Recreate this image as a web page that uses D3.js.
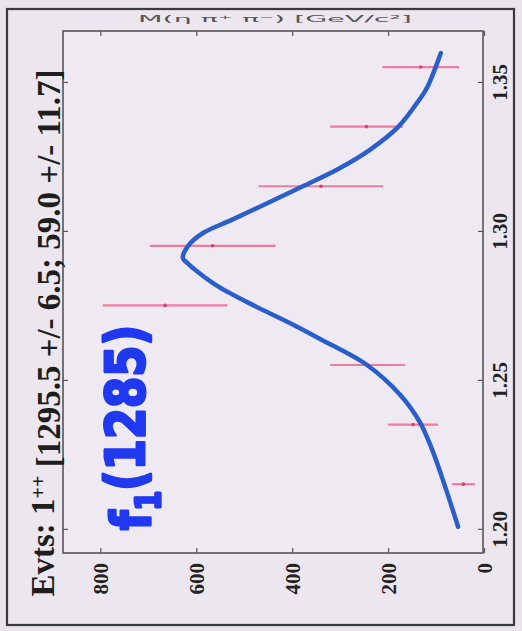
<!DOCTYPE html>
<html>
<head>
<meta charset="utf-8">
<script src="https://cdn.jsdelivr.net/npm/d3@7"></script>
<style>
  body { margin: 0; background: #e9e3eb; }
</style>
</head>
<body>
<div id="chart"></div>
<script>
// histogram bins (mass, GeV) and event counts with errors
const masses = [1.215, 1.235, 1.255, 1.275, 1.295, 1.315, 1.335, 1.355];
const counts = [43, 148, 243, 665, 566, 340, 245, 132];
const errors = [24, 52, 78, 130, 131, 130, 76, 80];

// fitted curve
const curveMass  = [1.2007, 1.2151, 1.2265, 1.2356, 1.2450, 1.2550, 1.2634, 1.2691, 1.2748, 1.2812, 1.2859, 1.2893, 1.2909,
                    1.2950, 1.2993, 1.3037, 1.3104, 1.3148, 1.3205, 1.3272, 1.3349, 1.3440, 1.3483, 1.3597];
const curveValue = [54, 83, 108, 133, 175, 244, 338, 405, 478, 553, 594, 619, 628,
                    617, 586, 526, 438, 380, 307, 238, 179, 135, 118, 90];

const valueTicks = [0, 200, 400, 600, 800];
const massTicks = [1.20, 1.25, 1.30, 1.35];

const titleText = "Evts: 1";
const titleSup = "++";
const titleRest = " [1295.5 +/- 6.5; 59.0 +/- 11.7]";
const axisTitle = "M(\u03b7 \u03c0\u207a \u03c0\u207b)  [GeV/c\u00b2]";

let w = 522;
let h = 631;
let frame = {left: 63, top: 31, right: 483, bottom: 553};

const svg = d3.select("#chart")
            .append("svg")
            .attr("width", w)
            .attr("height", h);

svg.append("rect")
    .attr("x", 0).attr("y", 0).attr("width", w).attr("height", h)
    .attr("fill", "#eae4ec");

// outer frame
svg.append("rect")
    .attr("x", 7).attr("y", 9).attr("width", 507).attr("height", 616)
    .attr("fill", "#ece6ee")
    .attr("stroke", "#3a3a3a")
    .attr("stroke-width", 2.2);

// plot area
svg.append("rect")
    .attr("x", frame.left).attr("y", frame.top)
    .attr("width", frame.right - frame.left).attr("height", frame.bottom - frame.top)
    .attr("fill", "#efe9f1")
    .attr("stroke", "#555")
    .attr("stroke-width", 1.6);

// chart is rotated: counts run right-to-left, mass runs bottom-to-top
let x = d3.scaleLinear().domain([0, 878]).range([484, frame.left]);
let y = d3.scaleLinear().domain([1.1919, 1.3671]).range([frame.bottom, frame.top]);

const labelFont = "'Liberation Serif', 'Times New Roman', serif";

// count axis (bottom)
let gx = svg.append("g")
    .attr("transform", `translate(0,${frame.bottom})`)
    .call(d3.axisBottom(x).tickValues(valueTicks).tickSize(-5).tickFormat(d3.format("d")));
gx.select(".domain").remove();
gx.selectAll("line").attr("stroke", "#555").attr("stroke-width", 1.2);
gx.selectAll("text")
    .attr("x", 0).attr("y", 0).attr("dy", "0.35em")
    .attr("transform", "translate(0,10) rotate(-90)")
    .attr("text-anchor", "end")
    .style("font-family", labelFont)
    .style("font-weight", "bold")
    .style("font-size", "21px")
    .attr("fill", "#222");

// mirrored ticks on top
let gxt = svg.append("g")
    .attr("transform", `translate(0,${frame.top})`)
    .call(d3.axisTop(x).tickValues(valueTicks).tickSize(-5).tickFormat(""));
gxt.select(".domain").remove();
gxt.selectAll("line").attr("stroke", "#555").attr("stroke-width", 1.2);

// mass axis (right)
let gy = svg.append("g")
    .attr("transform", `translate(${frame.right},0)`)
    .call(d3.axisRight(y).tickValues(massTicks).tickSize(-5).tickFormat(d3.format(".2f")));
gy.select(".domain").remove();
gy.selectAll("line").attr("stroke", "#555").attr("stroke-width", 1.2);
gy.selectAll("text")
    .attr("x", 0).attr("y", 0).attr("dy", "0.35em")
    .attr("transform", "translate(17,0) rotate(-90)")
    .attr("text-anchor", "middle")
    .style("font-family", labelFont)
    .style("font-weight", "bold")
    .style("font-size", "21px")
    .attr("fill", "#222");

// mirrored ticks on left
let gyl = svg.append("g")
    .attr("transform", `translate(${frame.left},0)`)
    .call(d3.axisLeft(y).tickValues(massTicks).tickSize(-5).tickFormat(""));
gyl.select(".domain").remove();
gyl.selectAll("line").attr("stroke", "#555").attr("stroke-width", 1.2);

// faint axis title above the frame
svg.append("text")
    .attr("x", 138).attr("y", 22)
    .attr("textLength", 274)
    .attr("lengthAdjust", "spacingAndGlyphs")
    .style("font-family", "'DejaVu Sans', sans-serif")
    .style("font-size", "9px")
    .attr("fill", "#555")
    .text(axisTitle);

// data points
let pts = masses.map((m, i) => ({m: m, v: counts[i], e: errors[i]}));

svg.selectAll(".errbar")
    .data(pts)
    .enter()
    .append("line")
    .attr("class", "errbar")
    .attr("x1", d => x(d.v - d.e))
    .attr("x2", d => x(d.v + d.e))
    .attr("y1", d => y(d.m))
    .attr("y2", d => y(d.m))
    .attr("stroke", "#f06a8e")
    .attr("stroke-width", 2.2)
    .style("opacity", 0.85);

svg.selectAll(".marker")
    .data(pts)
    .enter()
    .append("circle")
    .attr("class", "marker")
    .attr("cx", d => x(d.v))
    .attr("cy", d => y(d.m))
    .attr("r", 1.8)
    .attr("fill", "#d8406a");

// fit curve
let line = d3.line()
    .x((d, i) => x(curveValue[i]))
    .y(d => y(d))
    .curve(d3.curveCatmullRom.alpha(0.5));

svg.append("path")
    .attr("d", line(curveMass))
    .style("fill", "none")
    .style("stroke", "#2a5fcb")
    .style("stroke-width", 4.5)
    .style("stroke-linecap", "round");

// title, rotated
let title = svg.append("text")
    .attr("transform", "translate(54,333) rotate(-90)")
    .attr("text-anchor", "middle")
    .style("font-family", labelFont)
    .style("font-weight", "bold")
    .style("font-size", "33px")
    .attr("fill", "#1e1e1e");
title.append("tspan").text(titleText);
title.append("tspan").attr("dy", "-0.45em").style("font-size", "20px").text(titleSup);
title.append("tspan").attr("dy", "0.45em").text(titleRest);

// handwritten note
let note = svg.append("text")
    .attr("transform", "translate(150,530) rotate(-90)")
    .attr("text-anchor", "start")
    .attr("textLength", 205)
    .attr("lengthAdjust", "spacingAndGlyphs")
    .style("font-family", "'DejaVu Sans', sans-serif")
    .style("font-weight", "bold")
    .style("font-size", "54px")
    .attr("fill", "#2038ee")
    .attr("stroke", "#2038ee")
    .attr("stroke-width", 3)
    .attr("stroke-linejoin", "round");
note.append("tspan").text("f");
note.append("tspan").attr("dy", "0.3em").style("font-size", "34px").text("1");
note.append("tspan").attr("dy", "-0.3em").text("(1285)");
</script>
</body>
</html>
